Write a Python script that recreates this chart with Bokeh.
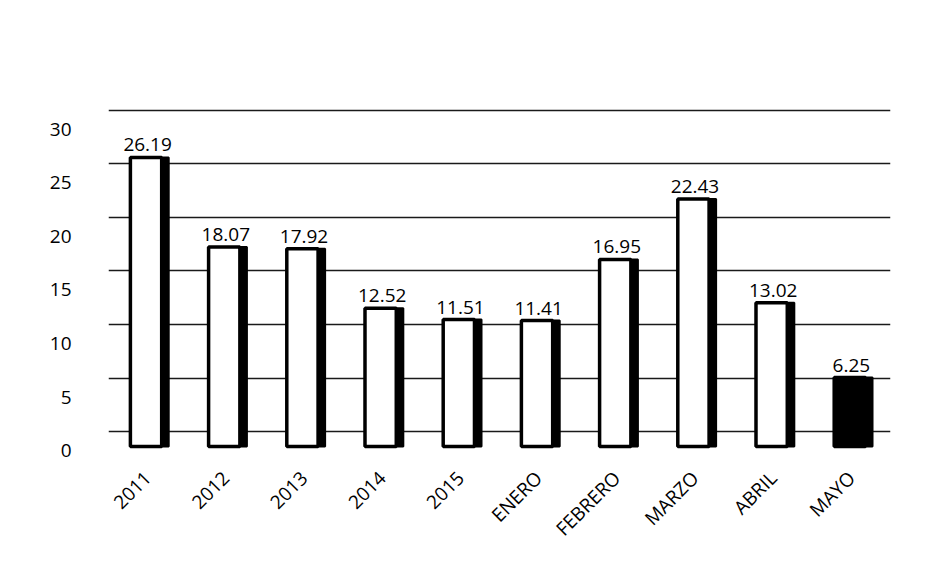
from bokeh.plotting import figure
from bokeh.models import ColumnDataSource, Range1d, LinearAxis, SingleIntervalTicker, FactorRange, Label
from bokeh.transform import dodge
from bokeh.embed import file_html
from bokeh.resources import INLINE
from bokeh.core.properties import value
import math

categories = ["2011", "2012", "2013", "2014", "2015", "ENERO", "FEBRERO", "MARZO", "ABRIL", "MAYO"]
values = [26.19, 18.07, 17.92, 12.52, 11.51, 11.41, 16.95, 22.43, 13.02, 6.25]
labels = ["26.19", "18.07", "17.92", "12.52", "11.51", "11.41", "16.95", "22.43", "13.02", "6.25"]
fills = ["white"] * 9 + ["black"]
title_text = "INFECCIONES"

src = ColumnDataSource(dict(cat=categories, val=values, lab=labels, fill=fills))

FONT = "Open Sans"

p = figure(width=934, height=553, output_backend="svg", toolbar_location=None,
           x_range=FactorRange(*categories), y_range=Range1d(-2.51, 31.38),
           min_border_left=108, min_border_right=44, min_border_top=95, min_border_bottom=93)
p.extra_y_ranges = {"front": Range1d(-0.74, 33.15), "bars": Range1d(-1.08, 31.8)}

p.outline_line_color = None
p.background_fill_color = "white"
p.border_fill_color = "white"

# hidden base axis (back wall) used for gridlines
p.yaxis[0].visible = False
p.yaxis[0].ticker = SingleIntervalTicker(interval=5)
p.ygrid.ticker = SingleIntervalTicker(interval=5)
p.ygrid.grid_line_color = "#1a1a1a"
p.ygrid.grid_line_width = 1.5
p.xgrid.grid_line_color = None

front_axis = LinearAxis(y_range_name="front", ticker=SingleIntervalTicker(interval=5))
front_axis.axis_line_color = None
front_axis.major_tick_line_color = None
front_axis.minor_tick_line_color = None
front_axis.major_label_text_font = FONT
front_axis.major_label_text_font_size = "19px"
front_axis.major_label_text_color = "#000000"
front_axis.major_label_standoff = 31
p.add_layout(front_axis, "left")

xa = p.xaxis[0]
xa.axis_line_color = None
xa.major_tick_line_color = None
xa.minor_tick_line_color = None
xa.major_label_orientation = math.pi / 4
xa.major_label_text_font = FONT
xa.major_label_text_font_size = "19px"
xa.major_label_text_color = "#000000"
xa.major_label_standoff = 10

# title (screen units relative to the plot frame)
p.add_layout(Label(x=362, y=415, x_units="screen", y_units="screen", text=title_text,
                   text_align="center", text_baseline="middle",
                   text_font=FONT, text_font_size="24px", text_color="#333333"))

# 3D side (shadow)
p.vbar(x=dodge("cat", 0.06, range=p.x_range), top="val", bottom=0, width=0.42,
       source=src, y_range_name="bars", fill_color="black", line_color="black", line_width=2)
# front face
p.vbar(x=dodge("cat", -0.02, range=p.x_range), top="val", bottom=0, width=0.40,
       source=src, y_range_name="bars", fill_color="fill", line_color="black", line_width=3.5)

p.text(x=dodge("cat", 0.0, range=p.x_range), y="val", text="lab", source=src, y_range_name="bars",
       text_align="center", text_baseline="bottom", y_offset=-6,
       text_font=value(FONT), text_font_size="19px", text_color="#000000")

open("out.html", "w").write(file_html(p, INLINE))
